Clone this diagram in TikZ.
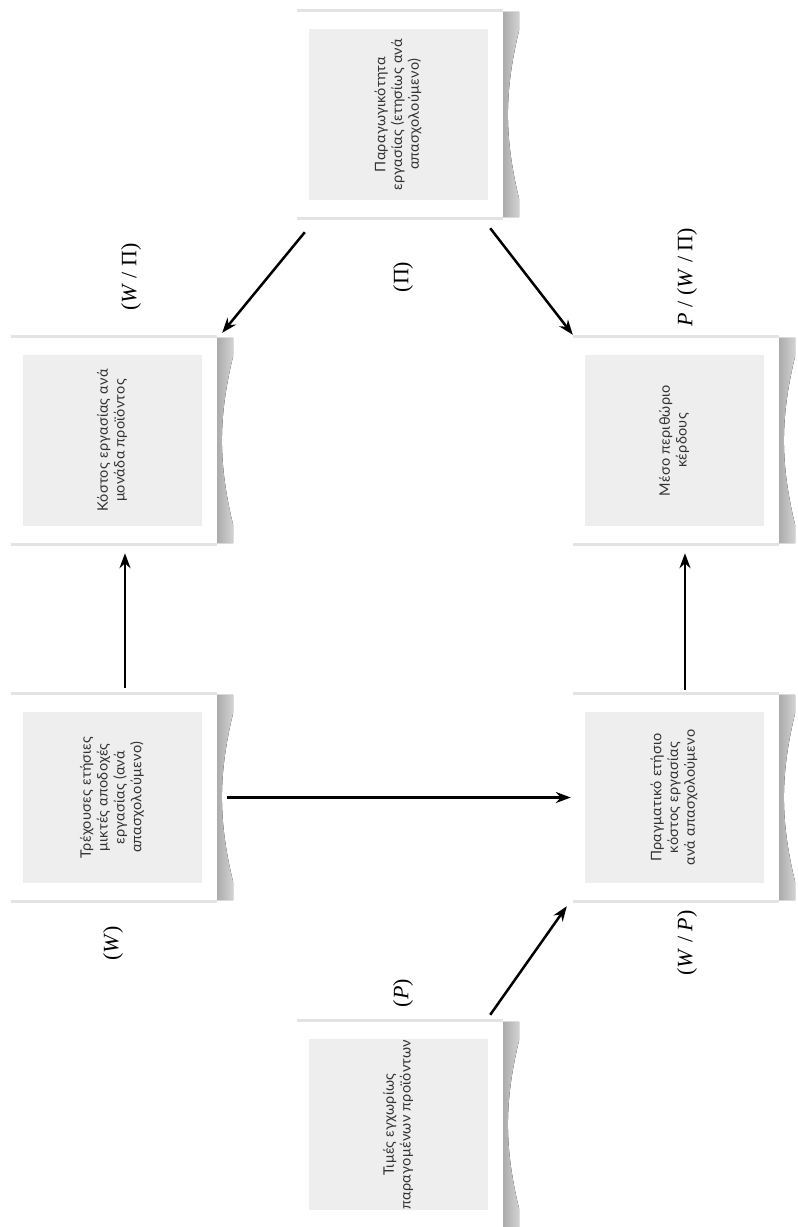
\documentclass[tikz,border=0pt]{standalone}
\usepackage{fontspec}
\setmainfont{Liberation Serif}
\newfontfamily\boxfont[LetterSpace=2]{Lato}
\usetikzlibrary{arrows.meta,calc}
\tikzset{
  paper/.style={draw=none, fill=white, minimum width=206pt, minimum height=205pt, inner sep=0pt},
  innerbox/.style={draw=none, fill=gray!13, minimum width=179pt, minimum height=171pt, inner sep=0pt},
  boxtext/.style={rotate=90, font=\boxfont\fontsize{14.5}{16.8}\selectfont, text=black!80, align=center},
  mathlbl/.style={rotate=90, font=\fontsize{22}{24}\selectfont},
  arr/.style={-{Stealth[length=15pt,width=11pt]}, line width=2.5pt},
}
\newcommand\mypaperbox[4]{%
  \node[paper] (#1) at (#2,#3) {};
  \fill[left color=gray!65, right color=gray!35]
    (#1.north east) -- ([xshift=16pt]#1.north east)
    -- ([xshift=16pt,yshift=-18pt]#1.north east)
    .. controls ([xshift=1pt,yshift=-80pt]#1.north east) and ([xshift=1pt,yshift=80pt]#1.south east)
    .. ([xshift=16pt,yshift=18pt]#1.south east)
    -- ([xshift=16pt]#1.south east) -- (#1.south east) -- cycle;
  \fill[gray!22] (#1.north west) rectangle ([yshift=3pt]#1.north east);
  \fill[gray!22] (#1.south west) rectangle ([yshift=-3pt]#1.south east);
  \node[innerbox] (#1i) at ([xshift=-2pt]#1.center) {};
  \node[boxtext] (#1t) at (#1i.center) {#4};
}
\begin{document}
\begin{tikzpicture}[x=1pt,y=-1pt]
\fill[white] (0,0) rectangle (798,1227);
\useasboundingbox (0,0) rectangle (798,1227);

\mypaperbox{b1}{400}{114.5}{Παραγωγικότητα\\εργασίας (ετησίως ανά\\απασχολούμενο)}
\mypaperbox{b2}{114}{440.5}{Κόστος εργασίας ανά\\μονάδα προϊόντος}
\mypaperbox{b3}{676}{440.5}{Μέσο περιθώριο\\κέρδους}
\mypaperbox{b4}{114}{797.5}{Τρέχουσες ετήσιες\\μικτές αποδοχές\\εργασίας (ανά\\απασχολούμενο)}
\mypaperbox{b5}{676}{797.5}{Πραγματικό ετήσιο\\κόστος εργασίας\\ανά απασχολούμενο}
\mypaperbox{b6}{400}{1124.5}{Τιμές εγχωρίως\\παραγομένων προϊόντων}

% connectors
\draw[arr] ([xshift=8pt,yshift=-15pt]b1.south west) -- ([xshift=5pt,yshift=5pt]b2.north east);
\draw[arr] ([xshift=-13pt,yshift=-11pt]b1.south east) -- ([xshift=0pt,yshift=3pt]b3.north west);
\draw[arr] ([xshift=11pt,yshift=7pt]b4.north) -- ([xshift=11pt,yshift=-10pt]b2.south);
\draw[arr] ([xshift=9pt,yshift=5pt]b5.north) -- ([xshift=9pt,yshift=-10pt]b3.south);
\draw[arr] ([xshift=10pt]b4.east) -- ([xshift=-2pt]b5.west);
\draw[arr] ([xshift=-13pt,yshift=7pt]b6.north east) -- ([xshift=-6pt,yshift=-6pt]b5.south west);

% labels
\node[mathlbl] (l1) at (131,277) {(\textit{W} / Π)};
\node[mathlbl] (l2) at (403,277) {(Π)};
\node[mathlbl] (l3) at (687,277) {\textit{P} / (\textit{W} / Π)};
\node[mathlbl] (l4) at (113,943) {(\textit{W})};
\node[mathlbl] (l5) at (403,993) {(\textit{P})};
\node[mathlbl] (l6) at (687,943) {(\textit{W} / \textit{P})};
\end{tikzpicture}
\end{document}
